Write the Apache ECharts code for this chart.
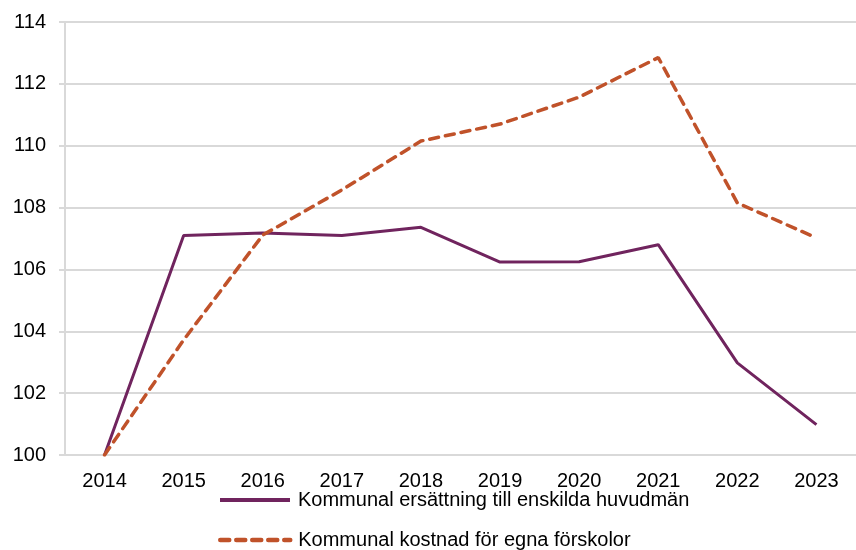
<!DOCTYPE html>
<html>
<head>
<meta charset="utf-8">
<script src="https://cdn.jsdelivr.net/npm/echarts@6/dist/echarts.min.js"></script>
<style>
    html, body { margin: 0; padding: 0; background: #fff; }
    #chart { width: 856px; height: 550px; }
</style>
</head>
<body>
<div id="chart"></div>
<script>
// 数据
const years = ['2014', '2015', '2016', '2017', '2018', '2019', '2020', '2021', '2022', '2023'];
const ersattning = [100, 107.1, 107.18, 107.1, 107.36, 106.24, 106.25, 106.8, 102.98, 100.98];
const kostnad = [100, 103.72, 107.11, 108.57, 110.15, 110.7, 111.57, 112.85, 108.15, 107.02];
const nameErsattning = 'Kommunal ersättning till enskilda huvudmän';
const nameKostnad = 'Kommunal kostnad för egna förskolor';

// 图例公共配置
function legendItem(name, top, lineStyle) {
    return {
        left: 213,
        top: top,
        itemWidth: 70,
        itemHeight: 12,
        itemStyle: { opacity: 0 },
        lineStyle: lineStyle,
        textStyle: {
            fontSize: 20,
            color: '#000',
            padding: [0, 0, 0, 3]
        },
        data: [name]
    };
}

document.addEventListener('DOMContentLoaded', () => {
    const chart = echarts.init(document.getElementById('chart'));
    chart.setOption({
        animation: false,
        textStyle: {
            fontFamily: 'Liberation Sans, Arial, sans-serif'
        },
        legend: [
            legendItem(nameErsattning, 485, { width: 4, color: '#70245e' }),
            legendItem(nameKostnad, 525, { width: 4.5, color: '#c0522a', type: [9, 7], cap: 'round' })
        ],
        grid: {
            left: 65,
            right: 0,
            top: 22,
            bottom: 95
        },
        xAxis: {
            type: 'category',
            data: years,
            boundaryGap: true,
            axisLine: {
                lineStyle: { color: '#d9d9d9', width: 2 }
            },
            axisTick: { show: false },
            axisLabel: {
                fontSize: 20,
                color: '#000',
                margin: 16
            }
        },
        yAxis: {
            type: 'value',
            min: 100,
            max: 114,
            interval: 2,
            axisLine: {
                show: true,
                lineStyle: { color: '#d9d9d9', width: 2 }
            },
            axisTick: {
                show: true,
                length: 6,
                lineStyle: { color: '#d9d9d9', width: 2 }
            },
            splitLine: {
                lineStyle: { color: '#d9d9d9', width: 2 }
            },
            axisLabel: {
                fontSize: 20,
                color: '#000',
                margin: 19
            }
        },
        series: [{
            name: nameErsattning,
            type: 'line',
            data: ersattning,
            symbol: 'none',
            itemStyle: { color: '#70245e' },
            lineStyle: { color: '#70245e', width: 3 }
        }, {
            name: nameKostnad,
            type: 'line',
            data: kostnad,
            symbol: 'none',
            itemStyle: { color: '#c0522a' },
            lineStyle: { color: '#c0522a', width: 3.5, type: [9, 7], cap: 'round' }
        }]
    });
});
</script>
</body>
</html>
